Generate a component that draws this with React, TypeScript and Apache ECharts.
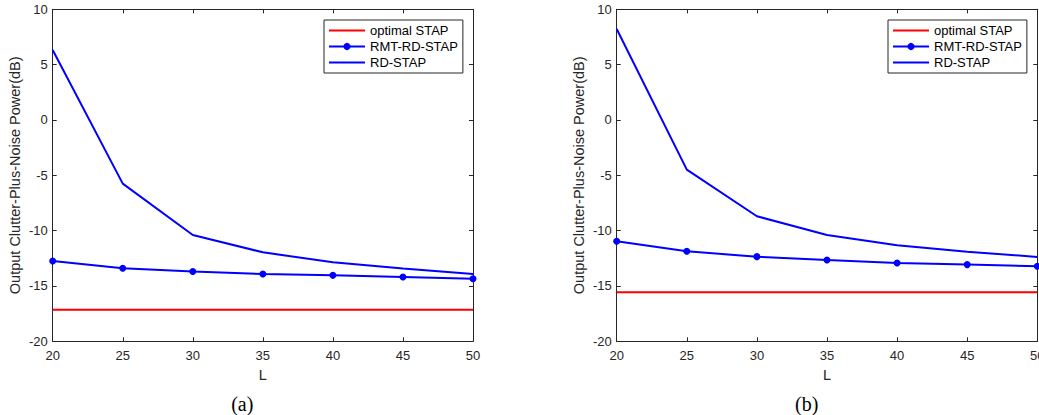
import React, { useEffect, useRef } from "react";
import * as echarts from "echarts";

const L = [20, 25, 30, 35, 40, 45, 50];
const optimalA = [-17.15, -17.15, -17.15, -17.15, -17.15, -17.15, -17.15];
const rmtA = [-12.75, -13.4, -13.7, -13.92, -14.04, -14.19, -14.34];
const rdA = [6.33, -5.75, -10.4, -11.96, -12.86, -13.43, -13.92];
const optimalB = [-15.57, -15.57, -15.57, -15.57, -15.57, -15.57, -15.57];
const rmtB = [-10.96, -11.87, -12.35, -12.65, -12.92, -13.07, -13.22];
const rdB = [8.22, -4.49, -8.7, -10.39, -11.33, -11.9, -12.38];
const xTicks = { min: 20, max: 50, interval: 5 };
const yTicks = { min: -20, max: 10, interval: 5 };
const names = ["optimal STAP", "RMT-RD-STAP", "RD-STAP"];
const yName = "Output Clutter-Plus-Noise Power(dB)";
const xName = "L";
const captions = ["(a)", "(b)"];

const AX = "#262626";
const FONT = "Liberation Sans, Arial, sans-serif";

const pairs = (ys: number[]) => L.map((x, i) => [x, ys[i]]);

export default function App() {
  const ref = useRef<HTMLDivElement>(null);
  useEffect(() => {
    if (!ref.current) return;
    const chart = echarts.init(ref.current, undefined, { renderer: "svg" });
    const grids = [
      { left: 52.7, top: 9.3, width: 420.3, height: 332, outerBoundsMode: "none", containLabel: false },
      { left: 616.7, top: 9.3, width: 420.6, height: 332, outerBoundsMode: "none", containLabel: false },
    ];
    const xAxes: any[] = [];
    const yAxes: any[] = [];
    grids.forEach((_, g) => {
      const base = {
        gridIndex: g,
        type: "value",
        axisLine: { show: true, onZero: false, lineStyle: { color: AX, width: 1 } },
        axisTick: { show: true, inside: true, length: 4, lineStyle: { color: AX } },
        splitLine: { show: false },
      };
      xAxes.push({
        ...base,
        ...xTicks,
        position: "bottom",
        name: xName,
        nameLocation: "middle",
        nameGap: 25,
        nameTextStyle: { fontSize: 14.5, color: AX, fontFamily: FONT },
        axisLabel: { fontSize: 13, color: AX, fontFamily: FONT, margin: 8 },
      });
      xAxes.push({ ...base, ...xTicks, position: "top", axisLabel: { show: false } });
      yAxes.push({
        ...base,
        ...yTicks,
        position: "left",
        name: yName,
        nameLocation: "middle",
        nameGap: 30,
        nameTextStyle: { fontSize: 14.5, color: AX, fontFamily: FONT },
        axisLabel: { fontSize: 13, color: AX, fontFamily: FONT, margin: 5 },
      });
      yAxes.push({ ...base, ...yTicks, position: "right", axisLabel: { show: false } });
    });
    const mk = (g: number, opt: number[], rmt: number[], rd: number[]) => [
      {
        name: names[0], type: "line", xAxisIndex: g * 2, yAxisIndex: g * 2,
        data: pairs(opt), symbol: "none", lineStyle: { color: "#ff0000", width: 2 },
        itemStyle: { color: "#ff0000" },
      },
      {
        name: names[2], type: "line", xAxisIndex: g * 2, yAxisIndex: g * 2,
        data: pairs(rd), symbol: "none", lineStyle: { color: "#0000ff", width: 2 },
        itemStyle: { color: "#0000ff" },
      },
      {
        name: names[1], type: "line", xAxisIndex: g * 2, yAxisIndex: g * 2,
        data: pairs(rmt), symbol: "circle", symbolSize: 7,
        lineStyle: { color: "#0000ff", width: 2 }, itemStyle: { color: "#0000ff" },
      },
    ];
    const legendBase = {
      orient: "vertical",
      top: 20,
      padding: [4, 5, 4, 4],
      itemWidth: 36,
      itemHeight: 9,
      itemGap: 3,
      borderColor: AX,
      borderWidth: 1,
      backgroundColor: "#fff",
      data: [
        { name: names[0], itemStyle: { opacity: 0 } },
        { name: names[1] },
        { name: names[2], itemStyle: { opacity: 0 } },
      ],
      selectedMode: false,
      textStyle: { fontSize: 13, color: "#000", fontFamily: FONT },
    };
    chart.setOption({
      animation: false,
      grid: grids,
      xAxis: xAxes,
      yAxis: yAxes,
      legend: [
        { ...legendBase, left: 324 },
        { ...legendBase, left: 888 },
      ],
      series: [...mk(0, optimalA, rmtA, rdA), ...mk(1, optimalB, rmtB, rdB)],
      graphic: [
        {
          type: "text", x: 242.3, y: 404,
          style: { text: captions[0], font: "20px 'Liberation Serif', serif", fill: "#000", align: "center", verticalAlign: "middle" },
        },
        {
          type: "text", x: 806.7, y: 404,
          style: { text: captions[1], font: "20px 'Liberation Serif', serif", fill: "#000", align: "center", verticalAlign: "middle" },
        },
      ],
    });
    return () => chart.dispose();
  }, []);
  return (
    <div
      ref={ref}
      style={{ position: "fixed", left: 0, top: 0, width: 1039, height: 415, background: "#fff" }}
    />
  );
}
